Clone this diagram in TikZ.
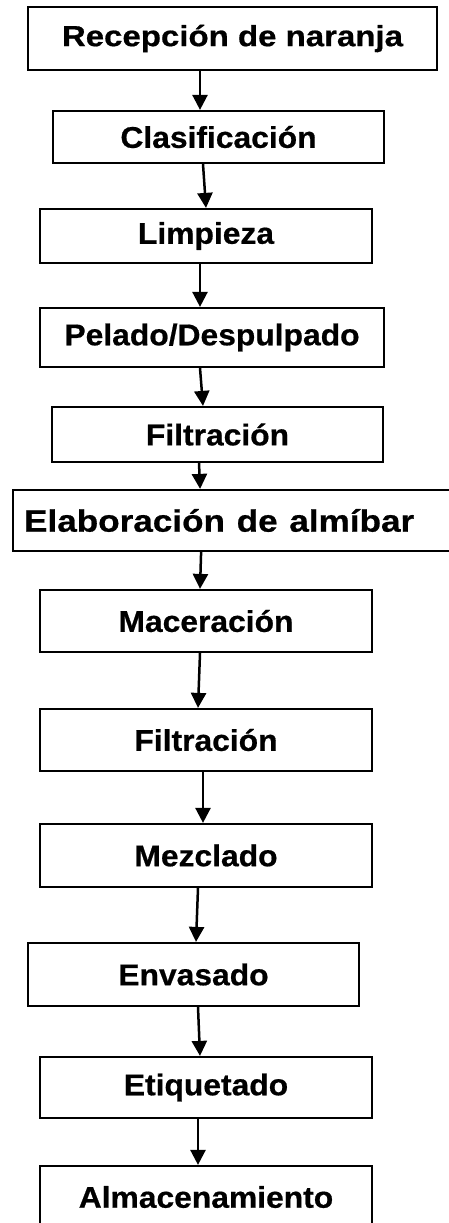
\documentclass[tikz,border=0pt]{standalone}
\usepackage{fontspec}
\setmainfont{Liberation Sans}[BoldFeatures={FakeBold=0.6}]
\usetikzlibrary{arrows.meta}
\tikzset{
  stepbox/.style={draw, line width=2.2pt, rectangle, inner sep=0pt, font=\fontsize{30}{33}\selectfont\bfseries},
  flow/.style={-{Triangle[width=15pt,length=15pt]}, line width=2.5pt},
}
\newcommand{\wtxt}[1]{\scalebox{1.06}[1]{#1}}
\begin{document}
\begin{tikzpicture}[x=1pt,y=-1pt]
\useasboundingbox (0,0) rectangle (449,1223);
\clip (0,0) rectangle (449,1223);
\node[stepbox, minimum width=409pt, minimum height=63pt] (b1) at (232.5,38.5) {\scalebox{1.1}[0.97]{Recepción de naranja}};
\node[stepbox, minimum width=331pt, minimum height=52pt] (b2) at (218.5,137) {\wtxt{Clasificación}};
\node[stepbox, minimum width=332pt, minimum height=54pt] (b3) at (206,236) {\wtxt{Limpieza}};
\node[stepbox, minimum width=344pt, minimum height=59pt] (b4) at (212,337.5) {\wtxt{Pelado/Despulpado}};
\node[stepbox, minimum width=331pt, minimum height=55pt] (b5) at (217.5,434.5) {\wtxt{Filtración}};
\node[stepbox, anchor=west, minimum width=445pt, minimum height=61pt, text width=423pt, inner xsep=10pt, align=left] (b6) at (12,520.5) {\scalebox{1.17}[1.03]{Elaboración de almíbar}};
\node[stepbox, minimum width=332pt, minimum height=62pt] (b7) at (206,621) {\wtxt{Maceración}};
\node[stepbox, minimum width=332pt, minimum height=62pt] (b8) at (206,740) {\wtxt{Filtración}};
\node[stepbox, minimum width=332pt, minimum height=63pt] (b9) at (206,855.5) {\wtxt{Mezclado}};
\node[stepbox, minimum width=331pt, minimum height=63pt] (b10) at (193.5,974.5) {\wtxt{Envasado}};
\node[stepbox, minimum width=332pt, minimum height=61pt] (b11) at (206,1087.5) {\wtxt{Etiquetado}};
\node[stepbox, minimum width=332pt, minimum height=62pt] (b12) at (206,1197) {\wtxt{Almacenamiento}};
\draw[flow] ([xshift=-32.5pt]b1.south) -- ([xshift=-18.5pt]b2.north);
\draw[flow] ([xshift=-15.5pt]b2.south) -- ([xshift=0pt]b3.north);
\draw[flow] ([xshift=-6pt]b3.south) -- ([xshift=-12pt]b4.north);
\draw[flow] ([xshift=-12pt]b4.south) -- ([xshift=-14.5pt]b5.north);
\draw[flow] ([xshift=-18.5pt]b5.south) -- ([xshift=-35.5pt]b6.north);
\draw[flow] ([xshift=-34.5pt]b6.south) -- ([xshift=-6pt]b7.north);
\draw[flow] ([xshift=-6pt]b7.south) -- ([xshift=-8pt]b8.north);
\draw[flow] ([xshift=-3pt]b8.south) -- ([xshift=-3pt]b9.north);
\draw[flow] ([xshift=-8pt]b9.south) -- ([xshift=2.5pt]b10.north);
\draw[flow] ([xshift=4.5pt]b10.south) -- ([xshift=-6pt]b11.north);
\draw[flow] ([xshift=-8pt]b11.south) -- ([xshift=-8pt]b12.north);
\end{tikzpicture}
\end{document}
